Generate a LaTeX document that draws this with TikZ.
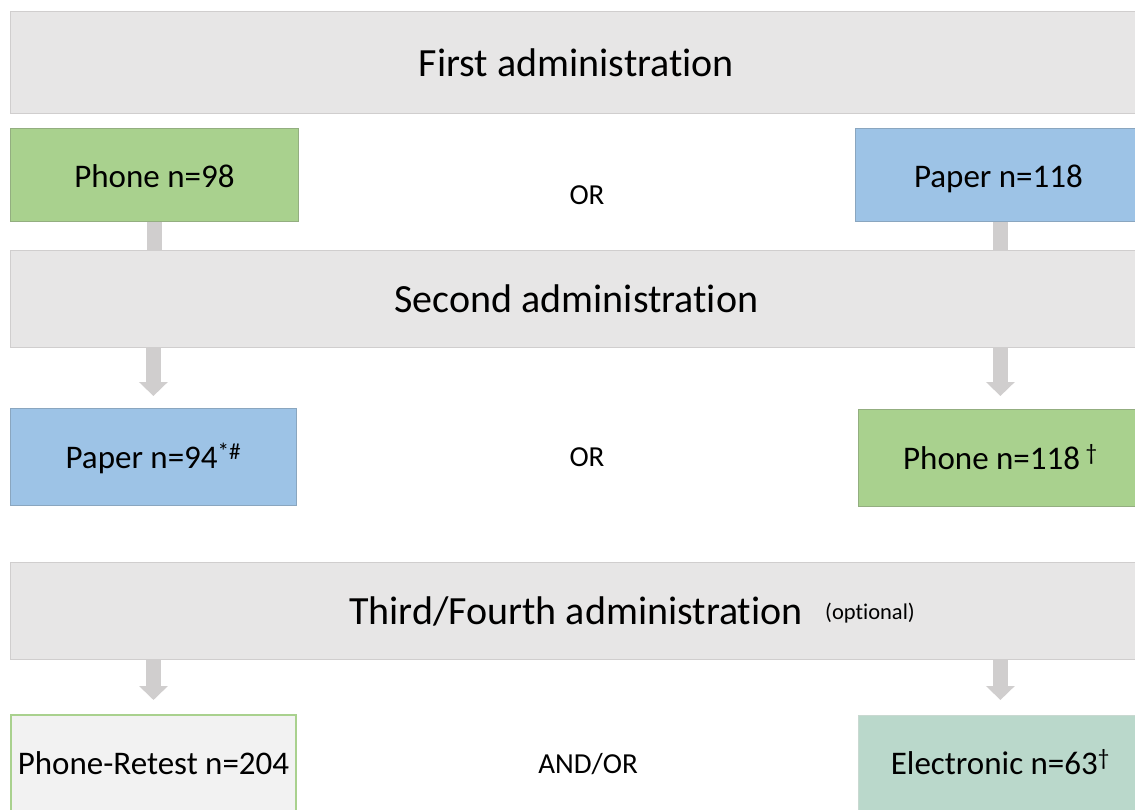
\documentclass[tikz,border=0pt]{standalone}
\usepackage{fontspec}
\setmainfont{Carlito}[Ligatures=NoCommon]
\usetikzlibrary{arrows.meta}

\definecolor{bannerfill}{HTML}{E7E6E6}
\definecolor{bannerline}{HTML}{D0CECE}
\definecolor{phonefill}{HTML}{A9D18E}
\definecolor{phoneline}{HTML}{93AE80}
\definecolor{paperfill}{HTML}{9DC3E6}
\definecolor{paperline}{HTML}{8AA6BF}
\definecolor{elecfill}{HTML}{BAD8CB}
\definecolor{elecline}{HTML}{C9D9D1}
\definecolor{retestfill}{HTML}{F2F2F2}
\definecolor{flowgray}{HTML}{D0CECE}

\tikzset{
  box/.style={rectangle, anchor=north west, inner sep=0pt, align=center,
    text depth=4pt},
  rowone/.style={text height=30pt},
  rowtwo/.style={text height=27pt},
  rowthree/.style={text height=23pt},
  banner/.style={rectangle, anchor=north west, inner sep=0pt, fill=bannerfill,
    draw=bannerline, line width=1pt, minimum width=1132pt,
    font=\fontsize{40}{48}\selectfont},
  phonebox/.style={box, fill=phonefill, draw=phoneline, line width=0.8pt,
    font=\fontsize{33}{40}\selectfont},
  paperbox/.style={box, fill=paperfill, draw=paperline, line width=0.8pt,
    font=\fontsize{33}{40}\selectfont},
  retestbox/.style={box, fill=retestfill, draw=phonefill, line width=2pt,
    font=\fontsize{33}{40}\selectfont},
  elecbox/.style={box, fill=elecfill, draw=elecline, line width=0.8pt,
    font=\fontsize{33}{40}\selectfont},
  joinword/.style={inner sep=0pt, font=\fontsize{29}{34}\selectfont},
  linkbar/.style={draw=flowgray, line width=15pt},
  flowarrow/.style={draw=flowgray, fill=flowgray, line width=15pt,
    -{Triangle[length=14pt, width=28pt]}},
}

\begin{document}
\begin{tikzpicture}[x=1pt, y=-1pt]
  \useasboundingbox (0,0) rectangle (1135,810);
  \clip (0,0) rectangle (1135,810);
  \fill[white] (0,0) rectangle (1135,810);

  % stage banners
  \node[banner, minimum height=102pt] (first) at (10,11) {First administration};
  \node[banner, minimum height=97pt] (second) at (10,250) {Second administration};
  \node[banner, minimum height=97pt] (third) at (10,562) {};
  \node[font=\fontsize{40}{48}\selectfont, inner sep=0pt] (thirdtitle)
    at (576,611) {Third/Fourth administration};
  \node[font=\fontsize{22.5}{27}\selectfont, inner sep=0pt] (optional)
    at (870,613) {(optional)};

  % first administration
  \node[phonebox, rowone, minimum width=288pt, minimum height=93pt] (phone98) at (10,128) {Phone n=98};
  \node[paperbox, rowone, minimum width=286pt, minimum height=93pt] (paper118) at (855,128) {Paper n=118};
  \node[joinword] (or1) at (587,195) {OR};

  % second administration
  \node[paperbox, rowtwo, minimum width=286pt, minimum height=97pt] (paper94) at (10,408)
    {Paper n=94\textsuperscript{*\#}};
  \node[phonebox, rowtwo, minimum width=284pt, minimum height=97pt] (phone118) at (858,409)
    {Phone n=118\,\textsuperscript{\textdagger}};
  \node[joinword] (or2) at (587,457) {OR};

  % third/fourth administration
  \node[retestbox, rowthree, minimum width=285pt, minimum height=100pt] (retest) at (10,714)
    {Phone-Retest n=204};
  \node[elecbox, rowthree, minimum width=284pt, minimum height=100pt] (electronic) at (858,715)
    {Electronic n=63\textsuperscript{\textdagger}};
  \node[joinword] (andor) at (588,764) {AND/OR};

  % links into the second banner
  \draw[linkbar] (phone98.south) -- (phone98.south |- second.north);
  \draw[linkbar] ([xshift=2pt]paper118.south) -- ([xshift=2pt]paper118.south |- second.north);

  % arrows out of the banners
  \draw[flowarrow, shorten >=12pt] (second.south -| paper94.north) -- (paper94.north);
  \draw[flowarrow, shorten >=13pt] (second.south -| phone118.north) -- (phone118.north);
  \draw[flowarrow, shorten >=14pt] (third.south -| retest.north) -- (retest.north);
  \draw[flowarrow, shorten >=15pt] (third.south -| electronic.north) -- (electronic.north);
\end{tikzpicture}
\end{document}
